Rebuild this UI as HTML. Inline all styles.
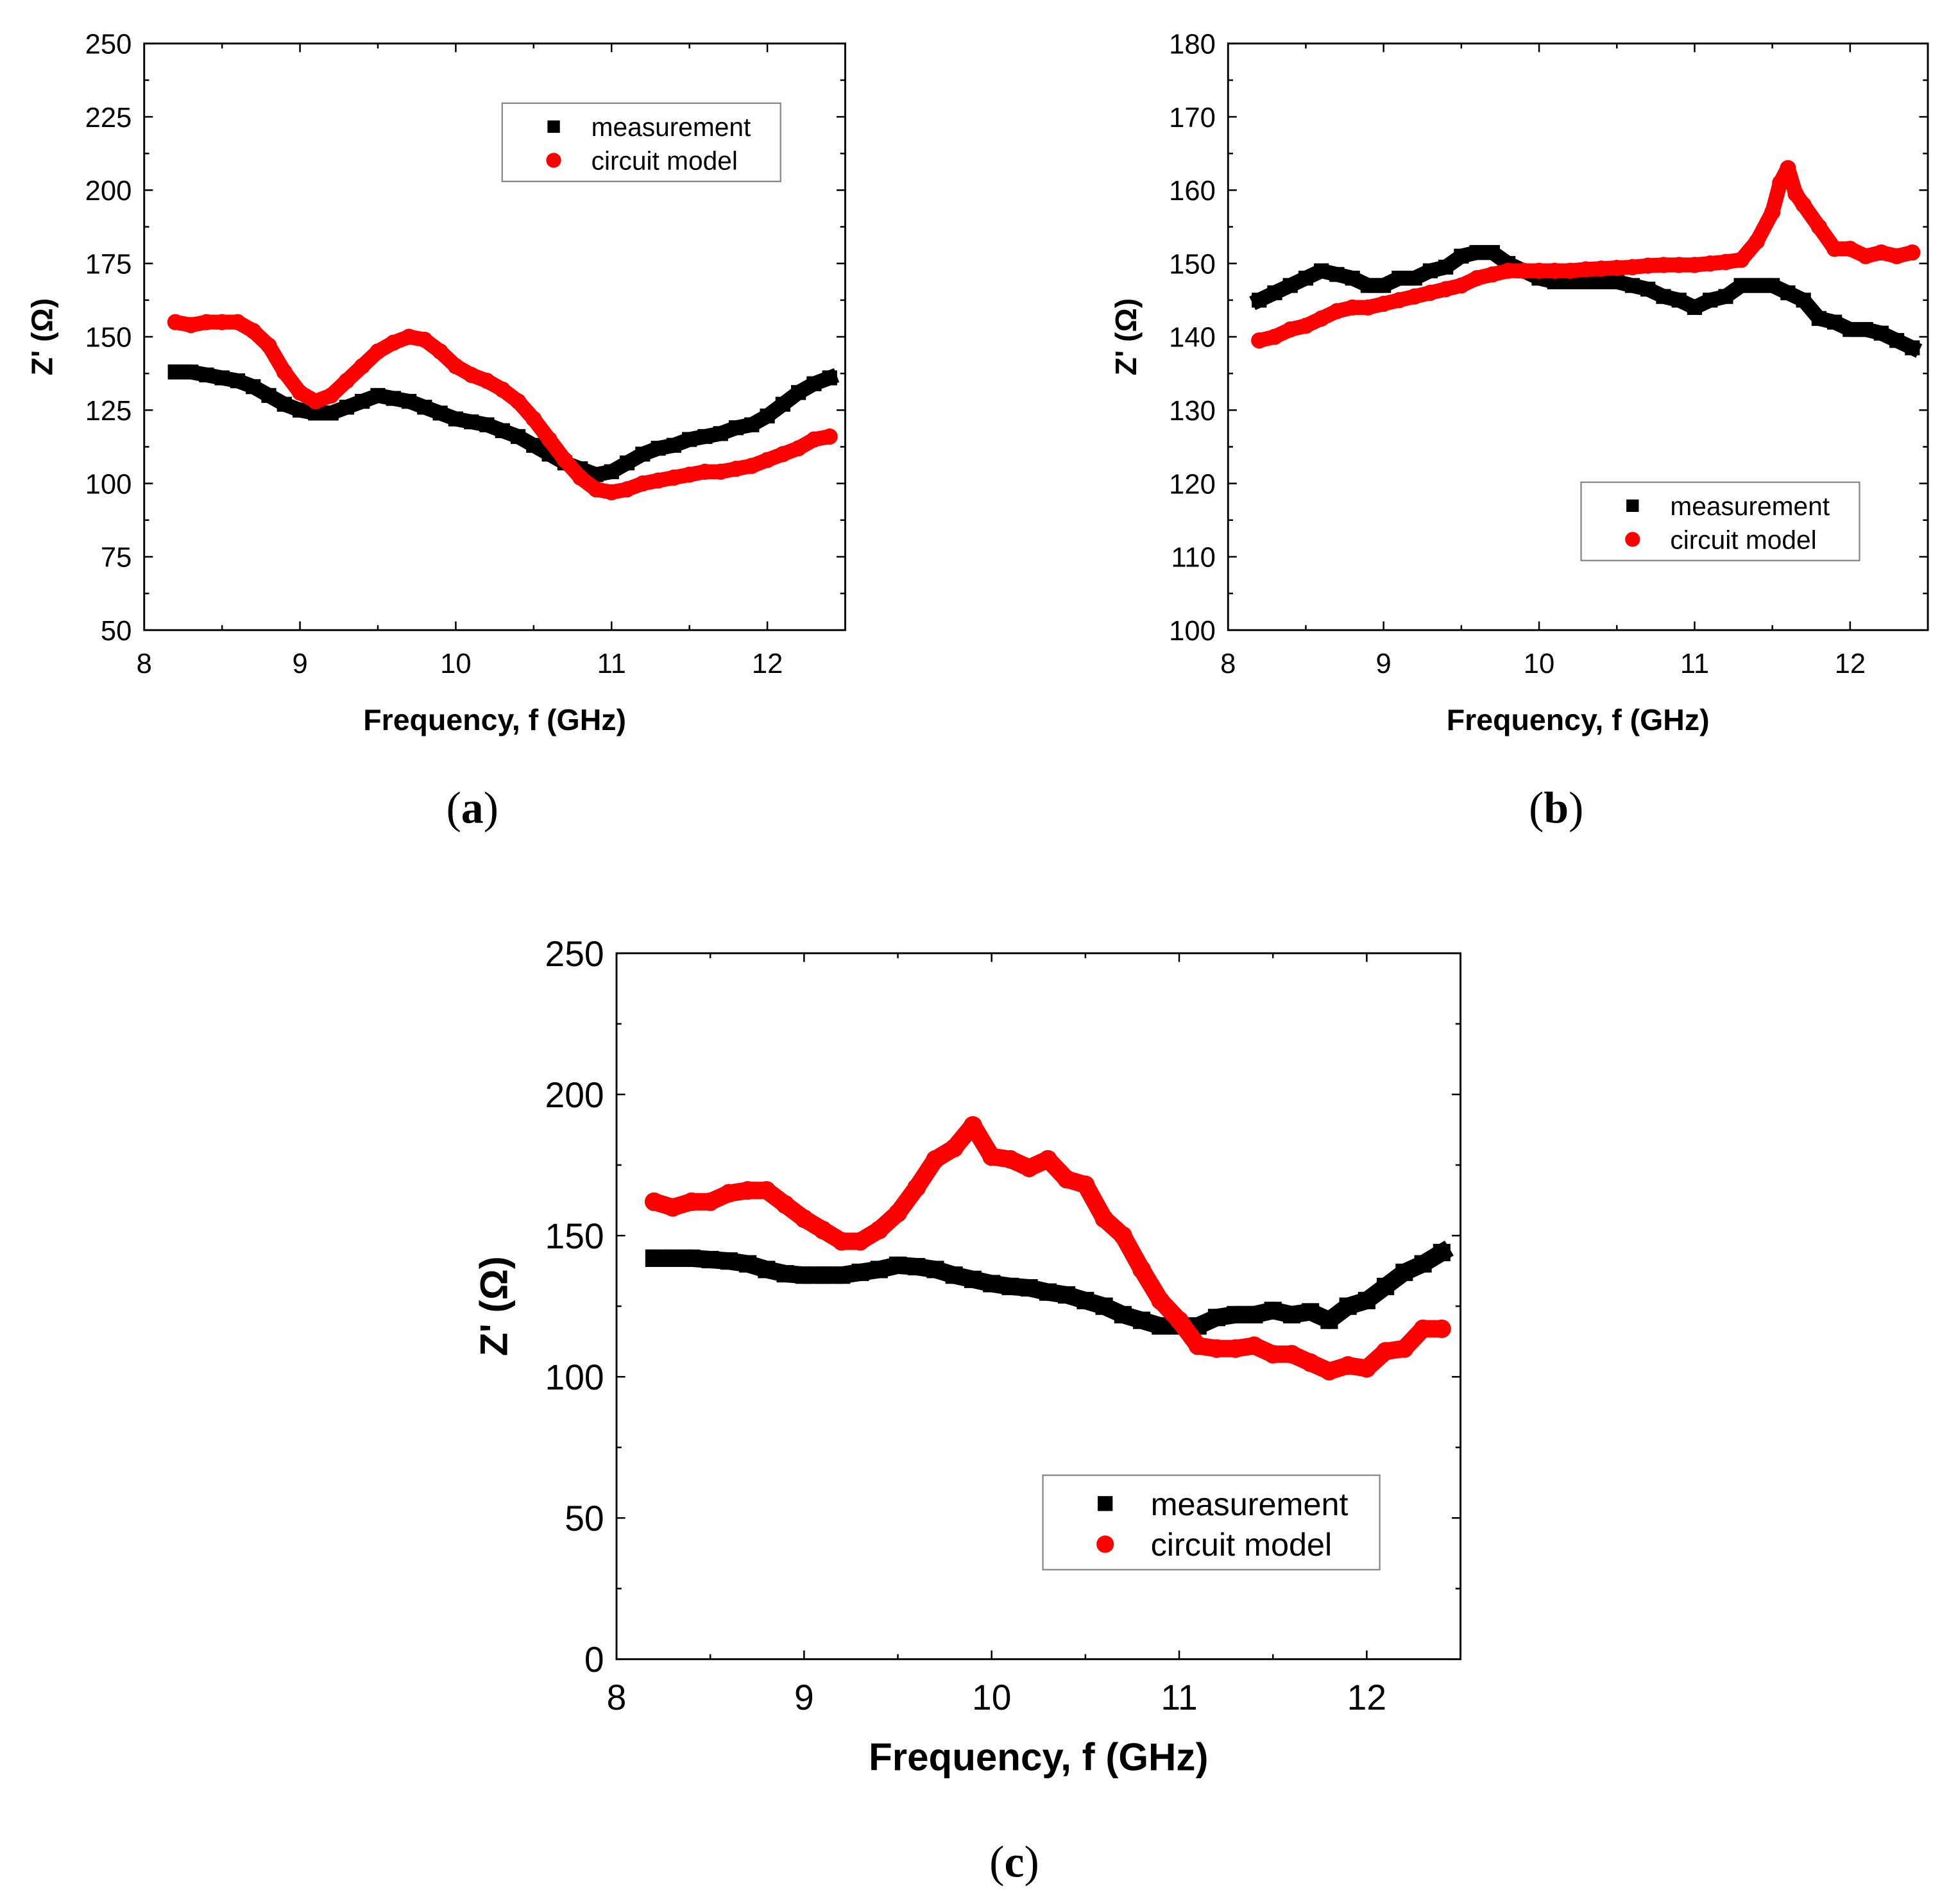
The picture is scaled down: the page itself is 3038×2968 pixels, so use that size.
<!DOCTYPE html>
<html><head><meta charset="utf-8"><style>
html,body{margin:0;padding:0;background:#fff;}
svg{display:block;}
text{font-family:"Liberation Sans",Arial,sans-serif;}
.cap{font-family:"Liberation Serif",serif;}
</style></head><body>
<svg id="fig" width="3038" height="2968" viewBox="0 0 1568 1532" preserveAspectRatio="none" xmlns="http://www.w3.org/2000/svg">
<rect width="1568" height="1532" fill="#fff"/>
</svg>
<script>
const fA = [8.2,8.3,8.4,8.5,8.6,8.7,8.8,8.9,9.0,9.1,9.2,9.3,9.4,9.5,9.6,9.7,9.8,9.9,10.0,10.1,10.2,10.3,10.4,10.5,10.6,10.7,10.8,10.9,11.0,11.1,11.2,11.3,11.4,11.5,11.6,11.7,11.8,11.9,12.0,12.1,12.2,12.3,12.4];
const measA = [138,138,137,136,135,133,130,127,125,124,124,126,128,130,129,128,126,124,122,121,120,118,116,113,110,107,105,103,104,107,110,112,113,115,116,117,119,120,123,127,131,134,136];
const circA = [155,154,155,155,155,152,147,138,131,128,130,135,140,145,148,150,149,145,140,137,135,132,128,122,115,108,102,98,97,98,100,101,102,103,104,104,105,106,108,110,112,115,116];
const measB = [145,146,147,148,149,148.5,148,147,147,148,148,149,149.5,151,151.5,151.5,150,149,148,147.5,147.5,147.5,147.5,147.5,147,146.5,145.5,145,144,145,145.5,147,147,147,146,145,142.5,142,141,141,140.5,139.5,138.5];
const fB2 = [8.2,8.3,8.4,8.5,8.6,8.7,8.8,8.9,9.0,9.1,9.2,9.3,9.4,9.5,9.6,9.7,9.8,9.9,10.0,10.1,10.2,10.3,10.4,10.5,10.6,10.7,10.8,10.9,11.0,11.1,11.2,11.3,11.4,11.5,11.55,11.6,11.65,11.7,11.8,11.9,12.0,12.1,12.2,12.3,12.4];
const circB = [139.5,140,141,141.5,142.5,143.5,144,144,144.5,145,145.5,146,146.5,147,148,148.5,149,149,149,149,149,149.2,149.3,149.4,149.5,149.7,149.8,149.8,149.8,150,150.2,150.5,153,157,161,163,159.5,158,155,152,152,151,151.5,151,151.5];
const measC = [142,142,142,141.5,141,140,138,136.5,136,136,136,137,138,139.5,139,138,136,134.5,133,132,131.5,130,129,127,125,122,120,118,118,118,121,122,122,123.5,122,123,120,125,127,132,137,140,144];
const circC = [162,160,162,162,165,166,166,161,156,152,148,148,152,158,167,177,181,189,178,177,174,177,170,168,156,150,138,127,120,111,110,110,111,108,108,105,102,104,103,109,110,117,117];
const xTicks = [8,9,10,11,12];
const yTicksA = [50,75,100,125,150,175,200,225,250];
const yTicksB = [100,110,120,130,140,150,160,170,180];
const yTicksC = [0,50,100,150,200,250];

const NS="http://www.w3.org/2000/svg";
const svg=document.getElementById('fig');
function mk(tag,attrs,parent){const e=document.createElementNS(NS,tag);for(const k in attrs)e.setAttribute(k,attrs[k]);(parent||svg).appendChild(e);return e;}

function panel(cfg){
  const g=mk('g',{});
  
  
  const {L,R,T,B,x0,x1,y0,y1}=cfg;
  const sx=v=>L+(v-x0)/(x1-x0)*(R-L);
  const sy=v=>B-(v-y0)/(y1-y0)*(B-T);
  const frame=mk('rect',{x:L,y:T,width:R-L,height:B-T,fill:'none',stroke:'#000','stroke-width':1.5},g);
  
  
  for(let v=x0;v<=x1+1e-9;v+=0.5){
    const maj=Math.abs(v-Math.round(v))<1e-9, len=maj?7:4, x=sx(v);
    mk('line',{x1:x,y1:B,x2:x,y2:B-len,stroke:'#000','stroke-width':1.3},g);
    mk('line',{x1:x,y1:T,x2:x,y2:T+len,stroke:'#000','stroke-width':1.3},g);
  }
  xTicks.forEach(v=>{const t=mk('text',{x:sx(v),y:B+cfg.fs+12,'font-size':cfg.fs,'text-anchor':'middle',fill:'#000'},g);t.textContent=v;
    });
  for(let v=y0;v<=y1+1e-9;v+=cfg.minor){
    const maj=cfg.yt.some(t=>Math.abs(t-v)<1e-9), len=maj?7:4, y=sy(v);
    mk('line',{x1:L,y1:y,x2:L+len,y2:y,stroke:'#000','stroke-width':1.3},g);
    mk('line',{x1:R,y1:y,x2:R-len,y2:y,stroke:'#000','stroke-width':1.3},g);
  }
  cfg.yt.forEach(v=>{const t=mk('text',{x:L-10,y:sy(v)+cfg.fs*0.36,'font-size':cfg.fs,'text-anchor':'end',fill:'#000'},g);t.textContent=v;
    });
  const xt=mk('text',{x:(L+R)/2+cfg.xtOff,y:B+cfg.fs+58*cfg.k,'font-size':cfg.tfs,'font-weight':'bold','text-anchor':'middle'},g);
  xt.textContent='Frequency, f (GHz)';
  
  const yx=cfg.ytx, yy=(T+B)/2;
  const yt=mk('text',{x:yx,y:yy,'font-size':cfg.tfs,'font-weight':'bold','text-anchor':'middle',transform:`rotate(-90 ${yx} ${yy})`},g);
  yt.textContent="Z' (Ω)";
  
  const ms=cfg.ms;
  function series(fx,vals,color,shape,name){
    const sg=mk('g',{},g);
    
    const pts=fx.map((f,i)=>sx(f)+','+sy(vals[i])).join(' ');
    mk('polyline',{points:pts,fill:'none',stroke:color,'stroke-width':ms,'stroke-linejoin':'round','stroke-linecap':shape==='sq'?'square':'round'},sg);
    fx.forEach((f,i)=>{
      const m = shape==='sq' ? mk('rect',{x:sx(f)-ms/2,y:sy(vals[i])-ms/2,width:ms,height:ms,fill:color},sg)
                             : mk('circle',{cx:sx(f),cy:sy(vals[i]),r:ms/2+0.5,fill:color},sg);
      
      
    });
  }
  series(cfg.fm,cfg.m,'#000','sq','measurement-series');
  series(cfg.fc,cfg.c,'#f00','ci','circuit-model-series');
  const lg=mk('g',{},g);
  
  const [lx,ly,lw,lh]=cfg.leg;
  mk('rect',{x:lx,y:ly,width:lw,height:lh,fill:'#fff',stroke:'#888','stroke-width':1.2},lg);
  const r1=ly+lh*0.3, r2=ly+lh*0.73, mx=lx+lw*0.185, tx=lx+lw*0.32;
  mk('rect',{x:mx-ms/2+1,y:r1-ms/2+1,width:ms-2,height:ms-2,fill:'#000'},lg);
  mk('circle',{cx:mx,cy:r2,r:ms/2,fill:'#f00'},lg);
  const e1=mk('text',{x:tx,y:r1+cfg.lfs*0.36,'font-size':cfg.lfs},lg);e1.textContent='measurement';
  
  const e2=mk('text',{x:tx,y:r2+cfg.lfs*0.36,'font-size':cfg.lfs},lg);e2.textContent='circuit model';
  
  const cp=mk('text',{x:cfg.cap[0],y:cfg.cap[1],'font-size':36,'text-anchor':'middle',class:'cap'},g);
  cp.innerHTML='(<tspan font-weight="bold">'+cfg.letter+'</tspan>)';
  
}
panel({name:'panel-a',L:116,R:680,T:35,B:507,x0:8,x1:12.5,y0:50,y1:250,yt:yTicksA,minor:12.5,fs:22.5,tfs:24,k:1,xtOff:0,ytx:42,
  fm:fA,m:measA,fc:fA,c:circA,ms:12,leg:[404,83,224,63],lfs:21,cap:[380,662],letter:'a'});
panel({name:'panel-b',L:988,R:1551,T:35,B:507,x0:8,x1:12.5,y0:100,y1:180,yt:yTicksB,minor:5,fs:22.5,tfs:24,k:1,xtOff:0,ytx:914,
  fm:fA,m:measB,fc:fB2,c:circB,ms:12,leg:[1272,388,224,63],lfs:21,cap:[1252,662],letter:'b'});
panel({name:'panel-c',L:496,R:1175,T:767,B:1335,x0:8,x1:12.5,y0:0,y1:250,yt:yTicksC,minor:25,fs:28.5,tfs:31,k:1.05,xtOff:0,ytx:408,
  fm:fA,m:measC,fc:fA,c:circC,ms:14,leg:[839,1187,271,76],lfs:26,cap:[816,1510],letter:'c'});
</script>
</body></html>
